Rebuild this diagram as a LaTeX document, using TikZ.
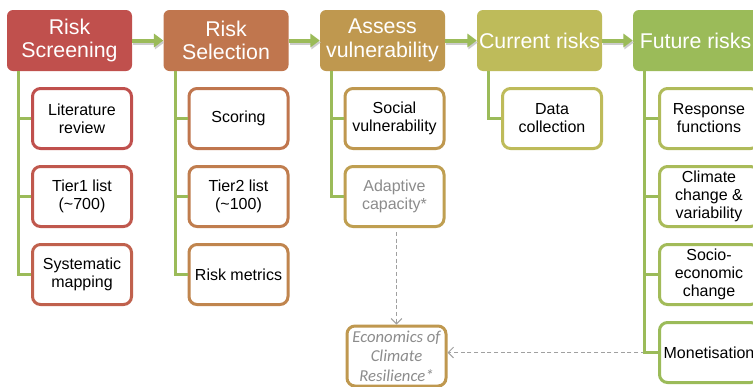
\documentclass[tikz,border=0pt]{standalone}
\usepackage{fontspec}
\setmainfont{Liberation Sans}
\newfontfamily\ecofont{Carlito}
\usetikzlibrary{arrows.meta}
\definecolor{cScr}{HTML}{C0504D}
\definecolor{cSel}{HTML}{C0764E}
\definecolor{cAss}{HTML}{BF984F}
\definecolor{cCur}{HTML}{BEBB5A}
\definecolor{cFut}{HTML}{9BBB59}
\definecolor{cTree}{HTML}{9BBB59}
\definecolor{cDash}{HTML}{A0A0A0}
\definecolor{cGrey}{HTML}{8C8C8C}

\begin{document}
\begin{tikzpicture}[x=0.75pt,y=-0.75pt,
  head/.style={fill=#1, text=white, rounded corners=4.5pt, minimum width=93.75pt, minimum height=45.75pt, inner sep=0pt, align=center, font=\fontsize{16}{17.5}\selectfont},
  sub/.style={draw=#1, fill=white, line width=2.25pt, rounded corners=6pt, minimum width=74.25pt, minimum height=45pt, inner sep=0pt, align=center, font=\fontsize{12}{13.5}\selectfont},
  tree/.style={cTree, line width=2.25pt},
  flow/.style={cTree, line width=3pt, -{Triangle[length=7pt,width=10pt]}},
  flowshade/.style={black!20, line width=3pt, -{Triangle[length=7pt,width=10pt]}, transform canvas={xshift=0.75pt,yshift=-1.5pt}},
  feed/.style={cDash, line width=0.75pt, dash pattern=on 3pt off 2pt, -{Straight Barb[length=4pt,width=8pt]}}]
\useasboundingbox (0,0) rectangle (753,386);
\clip (0,0) rectangle (753,386);
\fill[white] (0,0) rectangle (753,386);

\node[head=cScr] (scr) at (69.5,40.5) {Risk\\Screening};
\node[head=cSel] (sel) at (226,40.5) {Risk\\Selection};
\node[head=cAss] (ass) at (382.5,40.5) {Assess\\vulnerability};
\node[head=cCur] (cur) at (539.5,40.5) {Current risks};
\node[head=cFut] (fut) at (695.5,40.5) {Future risks};

\node[sub=cScr] (lit) at (82,118.5) {Literature\\review};
\node[sub=cScr!80!cSel] (tie1) at (82,196.5) {Tier1 list\\(\textasciitilde700)};
\node[sub=cScr!55!cSel] (sys) at (82,274.5) {Systematic\\mapping};

\node[sub=cSel] (sco) at (238.5,118.5) {Scoring};
\node[sub=cSel!80!cAss] (tie2) at (238.5,196.5) {Tier2 list\\(\textasciitilde100)};
\node[sub=cSel!55!cAss] (met) at (238.5,274.5) {Risk metrics};

\node[sub=cAss] (soc) at (394.5,118.5) {Social\\vulnerability};
\node[sub=cAss!80!cCur, text=cGrey] (ada) at (394.5,196.5) {Adaptive\\capacity*};

\node[sub=cCur] (dat) at (552,118.5) {Data\\collection};

\node[sub=cCur!60!cFut] (res) at (709,118.5) {Response\\functions};
\node[sub=cCur!40!cFut] (cli) at (709,196.5) {Climate\\change \&\\variability};
\node[sub=cCur!20!cFut] (soe) at (709,274.5) {Socio-\\economic\\change};
\node[sub=cFut] (mon) at (709,352.5) {Monetisation};

\node[sub=cAss, text=cGrey, font=\ecofont\itshape\fontsize{12.5}{14.5}\selectfont] (eco) at (396.5,356) {Economics of\\Climate\\Resilience*};

\foreach \a/\b in {scr/sel,sel/ass,ass/cur,cur/fut}{
  \draw[flowshade] (\a) -- (\b);
  \draw[flow] (\a) -- (\b);
}

\draw[feed, shorten <=3pt] (eco.north |- ada.south) -- (eco.north);
\draw[feed] (mon.west) -- (eco.east |- mon.west);

\foreach \h/\c in {scr/lit,scr/tie1,scr/sys,sel/sco,sel/tie2,sel/met,ass/soc,ass/ada,cur/dat,fut/res,fut/cli,fut/soe,fut/mon}
  \draw[tree] (\h.south west) ++(12,0) |- (\c.west);
\end{tikzpicture}
\end{document}
